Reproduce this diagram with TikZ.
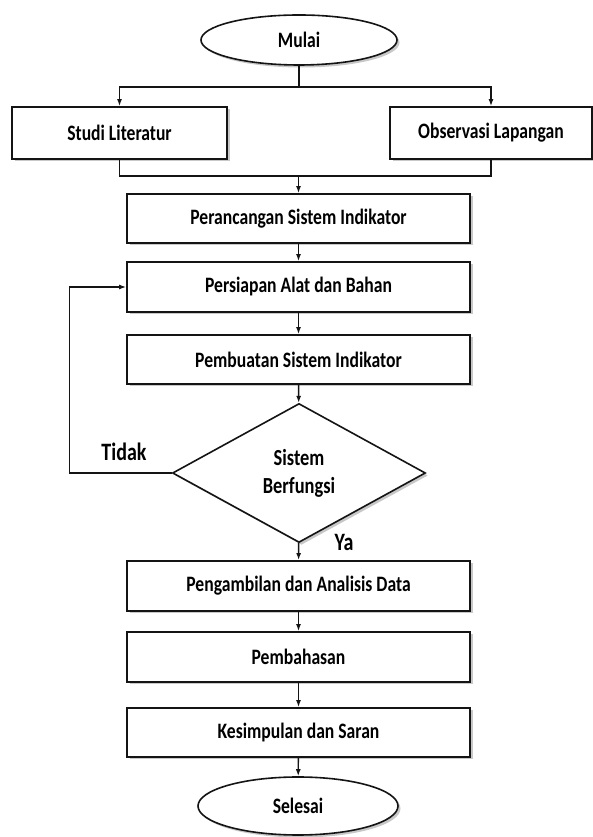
\documentclass[tikz,border=0pt]{standalone}
\usepackage{fontspec}
\setmainfont{Carlito}[FakeStretch=0.8]
\usepackage{tikz}
\usetikzlibrary{arrows.meta,shapes.geometric,shadows}
\definecolor{linegray}{HTML}{141414}
\definecolor{shadowgray}{HTML}{9A9A9A}
\tikzset{
  line/.style={draw=linegray, -{Latex[length=7pt,width=5pt]}, line width=1.4pt},
  plainline/.style={draw=linegray, line width=1.4pt},
  shade/.style={drop shadow={shadow xshift=2.5pt, shadow yshift=-2.5pt, fill=shadowgray, opacity=0.55}},
  box/.style={
    draw=linegray,
    fill=white,
    shade,
    line width=1.8pt,
    align=center,
    font=\bfseries\fontsize{22}{25}\selectfont,
    minimum height=50pt
  },
  terminal/.style={
    ellipse,
    draw=linegray,
    fill=white,
    shade,
    line width=1.6pt,
    font=\bfseries\fontsize{22}{25}\selectfont,
    inner sep=0pt
  },
  decision/.style={
    diamond,
    draw=linegray,
    fill=white,
    shade,
    line width=1.6pt,
    align=center,
    font=\bfseries\fontsize{23}{28}\selectfont,
    inner sep=0pt,
    minimum width=253pt,
    minimum height=139pt
  },
  tag/.style={font=\bfseries\fontsize{25}{28}\selectfont, inner sep=0pt}
}
\begin{document}
\begin{tikzpicture}[x=1pt,y=1pt]
  \path[use as bounding box] (0,0) rectangle (593,837);

  \node[terminal, minimum width=196pt, minimum height=50pt] (mulai) at (299,797) {Mulai};

  \node[box, minimum width=215pt, minimum height=52pt] (studi) at (119.5,704) {Studi Literatur};
  \node[box, minimum width=202pt, minimum height=52pt] (observasi) at (491,704) {Observasi Lapangan};

  \node[box, minimum width=343pt, minimum height=49pt] (rancang) at (298.5,618.5) {Perancangan Sistem Indikator};
  \node[box, minimum width=343pt] (persiapan) at (298.5,550) {Persiapan Alat dan Bahan};
  \node[box, minimum width=343pt, minimum height=49pt] (pembuatan) at (298.5,477.5) {Pembuatan Sistem Indikator};

  \node[decision] (cek) at (299,364) {Sistem\\Berfungsi};

  \node[box, minimum width=343pt] (analisis) at (298.5,251) {Pengambilan dan Analisis Data};
  \node[box, minimum width=343pt] (bahas) at (298.5,180) {Pembahasan};
  \node[box, minimum width=343pt, minimum height=49pt] (simpul) at (298.5,104.5) {Kesimpulan dan Saran};

  \node[terminal, minimum width=200pt, minimum height=58pt] (selesai) at (298,31) {Selesai};

  \node[tag] (tidak) at (124,385) {Tidak};
  \node[tag] (ya) at (344,295) {Ya};

  \coordinate (cabang) at (299,750);
  \coordinate (gabung) at (298.5,661);

  \draw[plainline] (mulai) -- (cabang);
  \draw[line] (cabang) -| (studi.north);
  \draw[line] (cabang) -| (observasi.north);
  \draw[plainline] (studi.south) |- (gabung);
  \draw[plainline] (observasi.south) |- (gabung);
  \draw[line] (gabung) -- (rancang);
  \draw[line] (rancang) -- (persiapan);
  \draw[line] (persiapan) -- (pembuatan);
  \draw[line] (pembuatan) -- (cek);
  \draw[line] (cek.west) -- ++(-102,0) |- (persiapan.west);
  \draw[line] (cek) -- (analisis);
  \draw[line] (analisis) -- (bahas);
  \draw[line] (bahas) -- (simpul);
  \draw[line] (simpul) -- (selesai);
\end{tikzpicture}
\end{document}
